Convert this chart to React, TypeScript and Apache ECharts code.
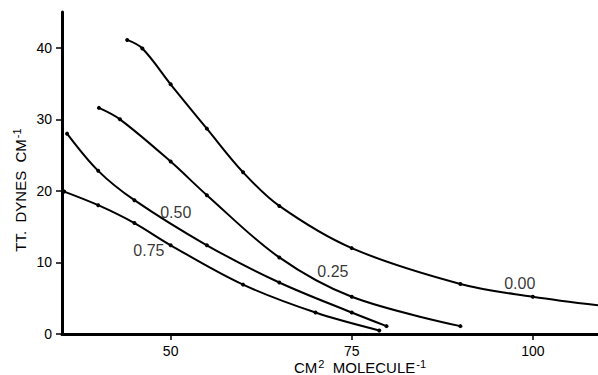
import React, { useEffect, useRef } from "react";
import * as echarts from "echarts";

// Area (cm^2 / molecule) and surface pressure (dynes/cm) for each mole fraction curve
const x000 = [44.0, 46.1, 50, 55, 60, 65, 75, 90, 100, 109];
const y000 = [41.1, 39.9, 34.9, 28.7, 22.6, 17.9, 12.0, 7.0, 5.2, 4.0];
const x025 = [40.1, 43.0, 50, 55, 65, 75, 90];
const y025 = [31.6, 30.0, 24.1, 19.4, 10.7, 5.2, 1.1];
const x050 = [35.7, 40, 45, 55, 65, 75, 79.8];
const y050 = [28.0, 22.8, 18.7, 12.4, 7.2, 3.0, 1.1];
const x075 = [35.3, 40, 45, 50, 60, 70, 78.8];
const y075 = [19.9, 18.0, 15.5, 12.4, 6.9, 3.0, 0.5];

const curveNames = ["0.00", "0.25", "0.50", "0.75"];
const labelX = [98.2, 72.4, 50.7, 47.0];
const labelY = [7.0, 8.8, 17.0, 11.6];

const xTicks = [50, 75, 100];
const yTicks = [0, 10, 20, 30, 40];

const FONT = "Liberation Sans";

function pairs(xs: number[], ys: number[], lastNoSymbol = false) {
  return xs.map((x, i) => {
    if (lastNoSymbol && i === xs.length - 1) {
      return { value: [x, ys[i]], symbol: "none" };
    }
    return [x, ys[i]];
  });
}

export default function App() {
  const ref = useRef<HTMLDivElement>(null);
  useEffect(() => {
    if (!ref.current) return;
    const chart = echarts.init(ref.current, undefined, { renderer: "svg" });
    const lineSeries = (name: string, data: any[]) => ({
      name,
      type: "line",
      data,
      smooth: 0.35,
      symbol: "circle",
      symbolSize: 4,
      lineStyle: { color: "#000", width: 2 },
      itemStyle: { color: "#000" },
      z: 3,
    });
    chart.setOption({
      animation: false,
      backgroundColor: "#fff",
      grid: { left: 62, right: 0, top: 12, bottom: 41, containLabel: false },
      xAxis: {
        type: "value",
        min: 35,
        max: 109,
        axisLine: { show: true, onZero: false, lineStyle: { color: "#000", width: 3 } },
        axisTick: { show: true, customValues: xTicks, length: 6, lineStyle: { color: "#000", width: 1.5 } },
        axisLabel: { customValues: xTicks, color: "#000", fontSize: 14, fontFamily: FONT, margin: 10 },
        splitLine: { show: false },
      },
      yAxis: {
        type: "value",
        min: 0,
        max: 45,
        axisLine: { show: true, onZero: false, lineStyle: { color: "#000", width: 3 } },
        axisTick: { show: true, customValues: yTicks, length: 6, lineStyle: { color: "#000", width: 1.5 } },
        axisLabel: { customValues: yTicks, color: "#000", fontSize: 14, fontFamily: FONT, margin: 10 },
        splitLine: { show: false },
      },
      series: [
        lineSeries(curveNames[0], pairs(x000, y000, true)),
        lineSeries(curveNames[1], pairs(x025, y025)),
        lineSeries(curveNames[2], pairs(x050, y050)),
        lineSeries(curveNames[3], pairs(x075, y075)),
        {
          type: "scatter",
          symbolSize: 0,
          silent: true,
          data: labelX.map((x, i) => ({ value: [x, labelY[i]], name: curveNames[i] })),
          label: {
            show: true,
            position: "inside",
            formatter: (p: any) => p.name,
            color: "#000",
            fontSize: 16,
            fontFamily: FONT,
          },
          z: 4,
        },
      ],
      graphic: [
        {
          type: "text",
          x: 360,
          y: 367,
          style: {
            text: "CM{sup|2}  MOLECULE{sup|-1}",
            align: "center",
            verticalAlign: "middle",
            fontSize: 15,
            fontFamily: FONT,
            fill: "#000",
            rich: {
              sup: { fontSize: 11, fontFamily: FONT, fill: "#000", verticalAlign: "top", padding: [0, 0, 6, 1] },
            },
          },
        },
        {
          type: "text",
          x: 20,
          y: 190,
          rotation: Math.PI / 2,
          style: {
            text: "TT.  DYNES  CM{sup|-1}",
            align: "center",
            verticalAlign: "middle",
            fontSize: 15,
            fontFamily: FONT,
            fill: "#000",
            rich: {
              sup: { fontSize: 11, fontFamily: FONT, fill: "#000", verticalAlign: "top", padding: [0, 0, 6, 1] },
            },
          },
        },
      ],
    });
    return () => chart.dispose();
  }, []);
  return <div ref={ref} style={{ width: 598, height: 375, position: "absolute", left: 0, top: 0 }} />;
}
